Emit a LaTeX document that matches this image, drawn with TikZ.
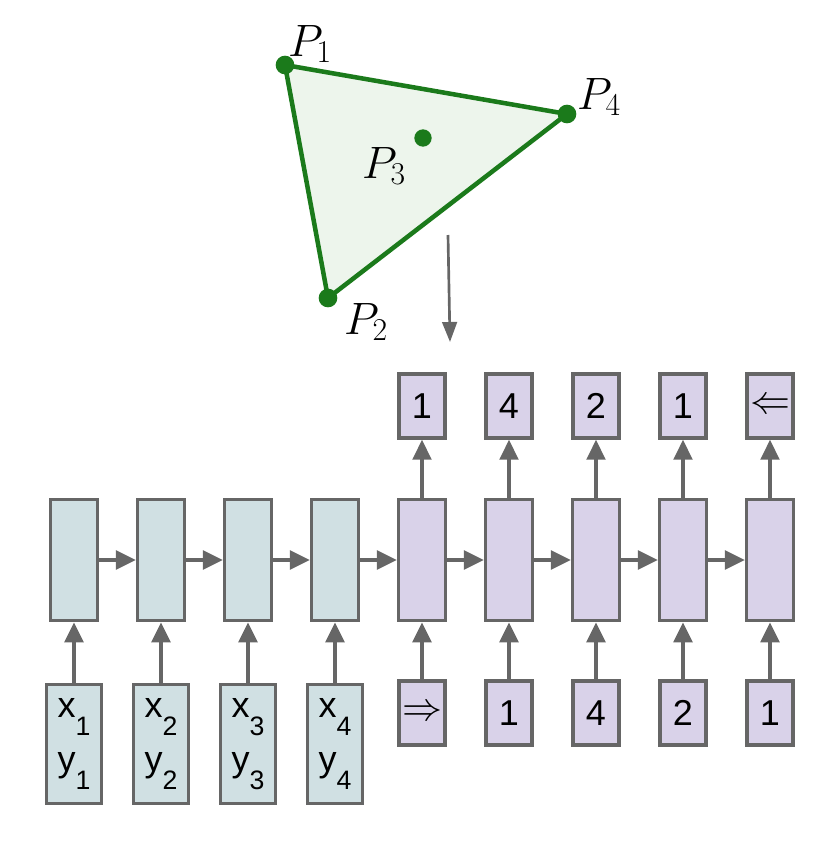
\RequirePackage{fix-cm}
\documentclass[tikz,border=0pt]{standalone}
\usepackage{fontspec}
\setmainfont{Liberation Sans}
\usepackage{tikz}
\usetikzlibrary{arrows.meta, positioning}

\newcommand{\indice}[1]{\raisebox{-0.5em}{\fontsize{20}{20}\selectfont #1}}

\begin{document}
\begin{tikzpicture}[x=0.75pt, y=-0.75pt,
  caixa/.style={draw=borda, line width=2.6pt, inner sep=0pt},
  oculto/.style={caixa, minimum width=35pt, minimum height=91pt},
  entrada/.style={caixa, fill=azulcinza, minimum width=41pt, minimum height=89pt, align=center, font=\fontsize{27}{40}\selectfont},
  saida/.style={caixa, fill=lilas, minimum width=34.5pt, minimum height=48pt, font=\fontsize{27}{30}\selectfont},
  seta/.style={-{Triangle[width=14pt, length=15pt]}, line width=2.6pt, draw=borda},
  ponto/.style={circle, fill=verde, inner sep=0pt, minimum size=14pt},
  rotulo/.style={font=\fontsize{34}{36}\selectfont},
  duplo/.style={font=\fontsize{30}{30}\selectfont}]
% --- CORES HEX ---
\definecolor{borda}{HTML}{666666}
\definecolor{azulcinza}{HTML}{D0E0E3}
\definecolor{lilas}{HTML}{D9D2E9}
\definecolor{verde}{HTML}{1B7A1B}
\definecolor{verdeclaro}{HTML}{EDF5EC}

\useasboundingbox (0,0) rectangle (830,854);

% LAYER 1: Triangulo e pontos
\coordinate (c1) at (285,65);
\coordinate (c2) at (328,298);
\coordinate (c4) at (567,114);
\draw[fill=verdeclaro, draw=verde, line width=3.4pt, line join=round] (c1) -- (c4) -- (c2) -- cycle;
\node[ponto] (p1) at (c1) {};
\node[ponto] (p2) at (c2) {};
\node[ponto, minimum size=13pt] (p3) at (423,138) {};
\node[ponto] (p4) at (c4) {};
\node[rotulo] (l1) at (310,44) {$P_1$};
\node[rotulo] (l2) at (366,322) {$P_2$};
\node[rotulo] (l3) at (384,166) {$P_3$};
\node[rotulo] (l4) at (599,97) {$P_4$};

\coordinate (setaini) at (448,235);
\coordinate (setafim) at (450,342);
\draw[-{Triangle[width=11pt, length=15pt]}, line width=2pt, draw=borda] (setaini) -- (setafim);

% LAYER 2: Codificador
\node[oculto, fill=azulcinza] (h1) at (74,560) {};
\node[oculto, fill=azulcinza] (h2) at (161,560) {};
\node[oculto, fill=azulcinza] (h3) at (248,560) {};
\node[oculto, fill=azulcinza] (h4) at (335,560) {};
\node[entrada] (e1) at (74,744) {x\indice{1}\\y\indice{1}};
\node[entrada] (e2) at (161,744) {x\indice{2}\\y\indice{2}};
\node[entrada] (e3) at (248,744) {x\indice{3}\\y\indice{3}};
\node[entrada] (e4) at (335,744) {x\indice{4}\\y\indice{4}};

% LAYER 3: Decodificador
\node[oculto, fill=lilas] (h5) at (422,560) {};
\node[oculto, fill=lilas] (h6) at (509,560) {};
\node[oculto, fill=lilas] (h7) at (596,560) {};
\node[oculto, fill=lilas] (h8) at (683,560) {};
\node[oculto, fill=lilas] (h9) at (770,560) {};
\node[saida, duplo] (d5) at (422,713) {$\Rightarrow$};
\node[saida] (d6) at (509,713) {1};
\node[saida] (d7) at (596,713) {4};
\node[saida] (d8) at (683,713) {2};
\node[saida] (d9) at (770,713) {1};
\node[saida] (o5) at (422,406) {1};
\node[saida] (o6) at (509,406) {4};
\node[saida] (o7) at (596,406) {2};
\node[saida] (o8) at (683,406) {1};
\node[saida, duplo] (o9) at (770,406) {$\Leftarrow$};

% LAYER 4: Setas
\draw[seta] (h1) -- (h2);
\draw[seta] (h2) -- (h3);
\draw[seta] (h3) -- (h4);
\draw[seta] (h4) -- (h5);
\draw[seta] (h5) -- (h6);
\draw[seta] (h6) -- (h7);
\draw[seta] (h7) -- (h8);
\draw[seta] (h8) -- (h9);
\draw[seta] (e1) -- (h1);
\draw[seta] (e2) -- (h2);
\draw[seta] (e3) -- (h3);
\draw[seta] (e4) -- (h4);
\draw[seta] (d5) -- (h5);
\draw[seta] (d6) -- (h6);
\draw[seta] (d7) -- (h7);
\draw[seta] (d8) -- (h8);
\draw[seta] (d9) -- (h9);
\draw[seta] (h5) -- (o5);
\draw[seta] (h6) -- (o6);
\draw[seta] (h7) -- (o7);
\draw[seta] (h8) -- (o8);
\draw[seta] (h9) -- (o9);
\end{tikzpicture}
\end{document}
